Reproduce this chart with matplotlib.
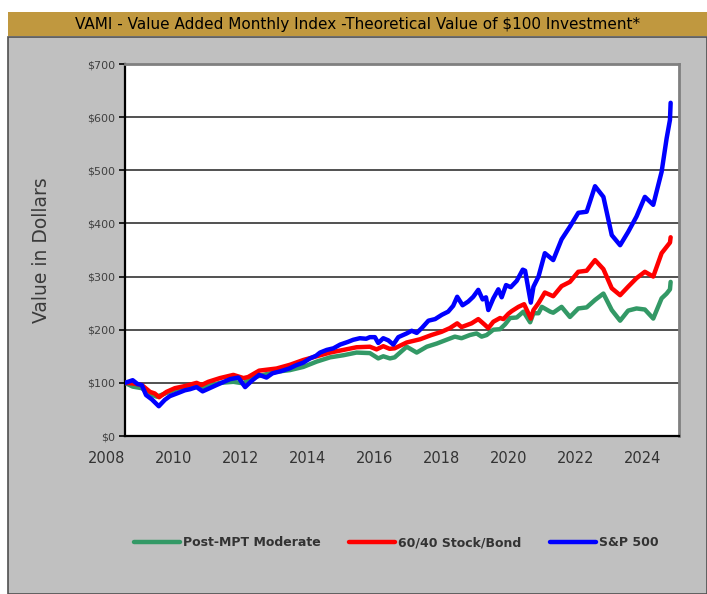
import matplotlib
matplotlib.use("Agg")
import matplotlib.pyplot as plt
from matplotlib.patches import Rectangle

# values (x in years as placed by the axis labels)
spx_years = [2008.54, 2008.77, 2008.91, 2009.04, 2009.17, 2009.34, 2009.55, 2009.73, 2009.88, 2010.13,
             2010.33, 2010.48, 2010.68, 2010.86, 2011.0, 2011.28, 2011.68, 2011.93, 2012.13, 2012.33,
             2012.55, 2012.77, 2012.95, 2013.2, 2013.45, 2013.65, 2013.87, 2014.07, 2014.25, 2014.37,
             2014.57, 2014.77, 2014.97, 2015.2, 2015.36, 2015.56, 2015.75, 2015.86, 2016.01, 2016.11,
             2016.26, 2016.41, 2016.56, 2016.71, 2016.96, 2017.11, 2017.26, 2017.41, 2017.61, 2017.81,
             2018.01, 2018.2, 2018.35, 2018.47, 2018.63, 2018.8, 2018.95, 2019.1, 2019.23, 2019.33,
             2019.4, 2019.55, 2019.7, 2019.8, 2019.93, 2020.07, 2020.25, 2020.43, 2020.5, 2020.67,
             2020.75, 2020.9, 2021.09, 2021.34, 2021.59, 2021.84, 2022.09, 2022.34, 2022.59, 2022.84,
             2023.09, 2023.34, 2023.58, 2023.83, 2024.08, 2024.33, 2024.58, 2024.73, 2024.83, 2024.85]
spx_vals = [100, 105, 98, 96, 77, 69, 56, 68, 75, 81,
            86, 88, 92, 84, 88, 96, 107, 110, 92, 104,
            115, 110, 118, 122, 127, 133, 138, 146, 151, 157,
            162, 165, 172, 177, 181, 184, 183, 186, 186, 175,
            184, 180, 172, 186, 193, 198, 194, 203, 217, 220,
            228, 234, 245, 262, 246, 253, 262, 275, 257, 261,
            237, 259, 276, 261, 284, 280, 292, 313, 311, 251,
            281, 300, 344, 331, 370, 394, 420, 422, 470, 450,
            378, 359, 384, 413, 450, 435, 497, 560, 595, 627]

mix_years = [2008.54, 2008.77, 2009.04, 2009.29, 2009.43, 2009.56, 2009.78, 2010.03, 2010.33, 2010.68,
             2010.83, 2011.03, 2011.38, 2011.78, 2012.08, 2012.22, 2012.55, 2013.07, 2013.47, 2013.87,
             2014.27, 2014.67, 2015.07, 2015.46, 2015.86, 2016.06, 2016.26, 2016.45, 2016.6, 2016.96,
             2017.36, 2017.7, 2018.0, 2018.25, 2018.47, 2018.6, 2018.9, 2019.1, 2019.3, 2019.4,
             2019.55, 2019.75, 2019.85, 2020.0, 2020.1, 2020.3, 2020.47, 2020.67, 2020.75, 2020.9,
             2021.09, 2021.34, 2021.59, 2021.84, 2022.09, 2022.34, 2022.59, 2022.84, 2023.09, 2023.34,
             2023.58, 2023.83, 2024.08, 2024.33, 2024.58, 2024.73, 2024.83, 2024.85]
mix_vals = [100, 99, 96, 83, 80, 73, 83, 90, 94, 100,
            96, 102, 109, 115, 109, 111, 123, 127, 134, 143,
            150, 157, 162, 167, 168, 163, 169, 164, 165, 176,
            182, 190, 196, 203, 212, 205, 212, 220, 209, 203,
            215, 222, 220, 230, 235, 243, 248, 221, 237, 250,
            270, 263, 282, 290, 309, 311, 331, 314, 278, 265,
            281, 297, 309, 300, 344, 356, 364, 374]

mpt_years = [2008.54, 2008.77, 2009.04, 2009.29, 2009.49, 2009.78, 2010.18, 2010.68, 2010.88, 2011.38,
             2011.78, 2012.08, 2012.28, 2012.55, 2013.07, 2013.47, 2013.87, 2014.27, 2014.67, 2015.07,
             2015.46, 2015.86, 2016.11, 2016.26, 2016.46, 2016.6, 2016.96, 2017.26, 2017.56, 2017.86,
             2018.15, 2018.4, 2018.6, 2018.85, 2019.05, 2019.2, 2019.35, 2019.55, 2019.75, 2019.9,
             2020.05, 2020.25, 2020.45, 2020.65, 2020.75, 2020.9, 2021.0, 2021.25, 2021.34, 2021.59,
             2021.84, 2022.09, 2022.34, 2022.59, 2022.84, 2023.09, 2023.34, 2023.58, 2023.83, 2024.08,
             2024.33, 2024.58, 2024.73, 2024.83, 2024.85]
mpt_vals = [100, 93, 90, 79, 74, 81, 90, 96, 92, 100,
            102, 99, 109, 113, 121, 124, 130, 140, 148, 152,
            157, 156, 146, 150, 146, 148, 168, 157, 168, 174,
            181, 187, 184, 190, 193, 187, 190, 200, 201, 210,
            222, 223, 234, 214, 231, 231, 243, 234, 232, 243,
            224, 240, 242, 256, 268, 237, 217, 236, 240, 238,
            221, 259, 268, 276, 290]

labels = ["Post-MPT Moderate", "60/40 Stock/Bond", "S&P 500"]
colors = ["#339966", "#ff0000", "#0000ff"]
year_ticks = list(range(2008, 2025, 2))
dollar_ticks = list(range(0, 701, 100))

W, H = 707, 594
fig = plt.figure(figsize=(W / 100, H / 100), dpi=100)
fig.patch.set_facecolor("white")

# gray panel + gold title bar (behind the axes)
fig.patches.append(Rectangle((8 / W, 0), 1 - 8 / W, (H - 37) / H, transform=fig.transFigure,
                             facecolor="#c0c0c0", edgecolor="#505050", lw=1.2, zorder=-5))
fig.patches.append(Rectangle((8 / W, (H - 36) / H), 1 - 8 / W, 24 / H, transform=fig.transFigure,
                             facecolor="#c0983f", edgecolor="none", zorder=-5))
fig.text((8 + W) / 2 / W, (H - 24) / H,
         "VAMI - Value Added Monthly Index -Theoretical Value of $100 Investment*",
         ha="center", va="center", fontsize=11, color="black")

ax = fig.add_axes([125 / W, (H - 436) / H, (679 - 125) / W, (436 - 64) / H])
ax.set_zorder(2)
ax.set_facecolor("white")

for yy in dollar_ticks[1:]:
    ax.axhline(yy, color="#222222", lw=1.1, zorder=1)

for xs, ys, lab, c in zip([mpt_years, mix_years, spx_years], [mpt_vals, mix_vals, spx_vals], labels, colors):
    ax.plot(xs, ys, color=c, lw=3.2, label=lab, solid_joinstyle="round", solid_capstyle="round", zorder=3)

ax.set_xlim(2008.54, 2025.1)
ax.set_ylim(0, 700)
ax.set_yticks(dollar_ticks)
ax.set_yticklabels([f"${v}" for v in dollar_ticks], fontsize=8, color="#404040")
ax.tick_params(axis="y", direction="out", length=4, width=1.2, color="black", pad=3)
ax.set_xticks(year_ticks[1:])
ax.set_xticklabels([str(y) for y in year_ticks[1:]], fontsize=10.5, color="#333333")
ax.tick_params(axis="x", length=0, pad=11)
# first label sits left of the plot area
ax.annotate(str(year_ticks[0]), xy=(year_ticks[0], 0), xycoords=("data", "axes fraction"),
            xytext=(0, -11), textcoords="offset points", ha="center", va="top",
            fontsize=10.5, color="#333333", annotation_clip=False)

for s in ["left", "bottom"]:
    ax.spines[s].set_color("black")
    ax.spines[s].set_linewidth(1.6)
for s in ["top", "right"]:
    ax.spines[s].set_color("#808080")
    ax.spines[s].set_linewidth(2)

fig.text(42 / W, (H - 250) / H, "Value in Dollars", rotation=90, ha="center", va="center",
         fontsize=13.5, color="#3a3a3a")

handles, labs = ax.get_legend_handles_labels()
fig.legend(handles, labs, loc="center", bbox_to_anchor=(396 / W, (H - 543) / H), ncol=3,
           frameon=False, prop={"weight": "bold", "size": 9}, labelcolor="#333333",
           handlelength=3.7, handletextpad=0.2, columnspacing=2.3)

fig.savefig("out.png", dpi=100)
